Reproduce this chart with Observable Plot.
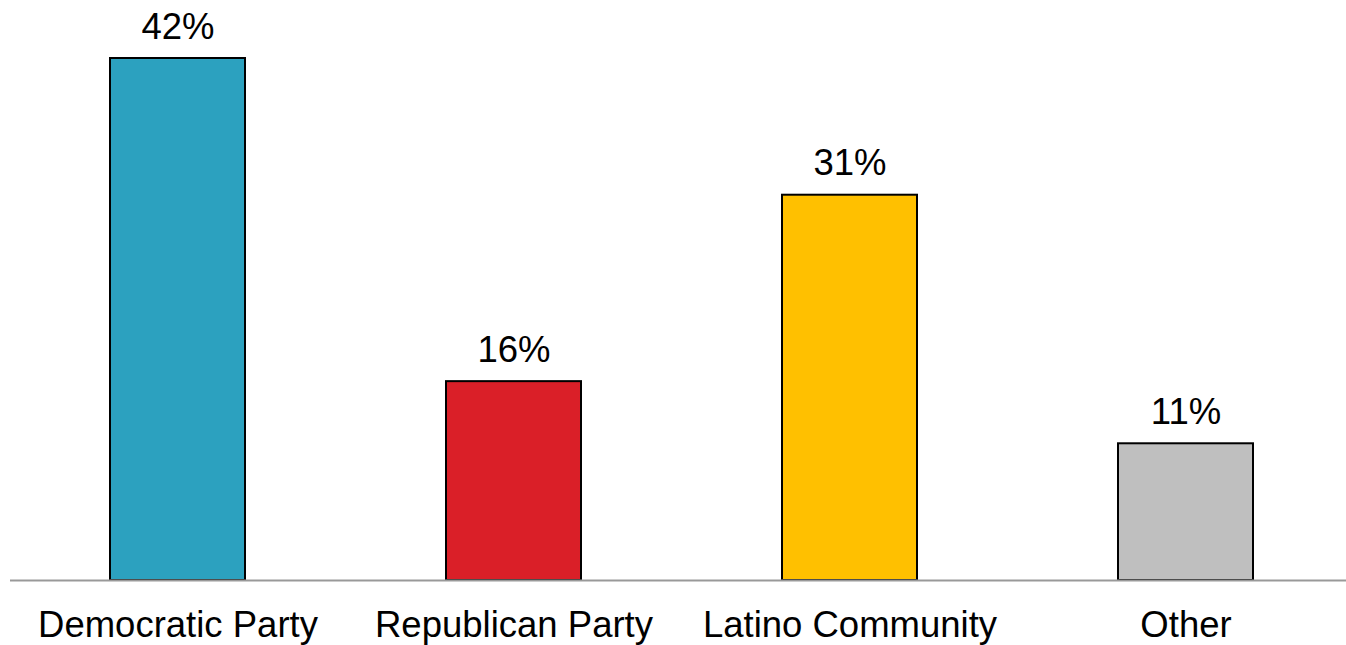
<!DOCTYPE html>
<html>
<head>
<meta charset="utf-8">
<script src="https://cdn.jsdelivr.net/npm/d3@7"></script>
<script src="https://cdn.jsdelivr.net/npm/@observablehq/plot@0.6"></script>
<style>
  html, body { margin: 0; padding: 0; background: #fff; }
  #chart svg { display: block; }
</style>
</head>
<body>
<div id="chart"></div>
<script>
const categories = ["Democratic Party", "Republican Party", "Latino Community", "Other"];
const values = [42, 16, 31, 11];
const colors = ["#2ca1bf", "#da1f28", "#ffc000", "#bfbfbf"];

const data = categories.map((c, i) => ({category: c, value: values[i], color: colors[i]}));

const chart = Plot.plot({
  width: 1346,
  height: 645,
  marginLeft: 10,
  marginRight: -8,
  marginTop: 58,
  marginBottom: 65,
  style: {fontFamily: "'Liberation Sans', Arial, sans-serif", fontSize: "36.5px", color: "#000", background: "#fff"},
  x: {domain: categories, paddingInner: 0.598, paddingOuter: 0.299, label: null},
  y: {domain: [0, 42], axis: null},
  marks: [
    Plot.barY(data, {x: "category", y: "value", fill: "color", stroke: "#000", strokeWidth: 2}),
    Plot.ruleY([0], {stroke: "#999", strokeWidth: 2}),
    Plot.text(data, {x: "category", y: "value", text: d => d.value + "%", dy: -20, lineAnchor: "bottom", fontSize: 36.5, fill: "#000"}),
    Plot.axisX({tickSize: 0, tickPadding: 31, fontSize: 36.5, label: null, fill: "#000"})
  ]
});
document.getElementById("chart").appendChild(chart);
</script>
</body>
</html>
